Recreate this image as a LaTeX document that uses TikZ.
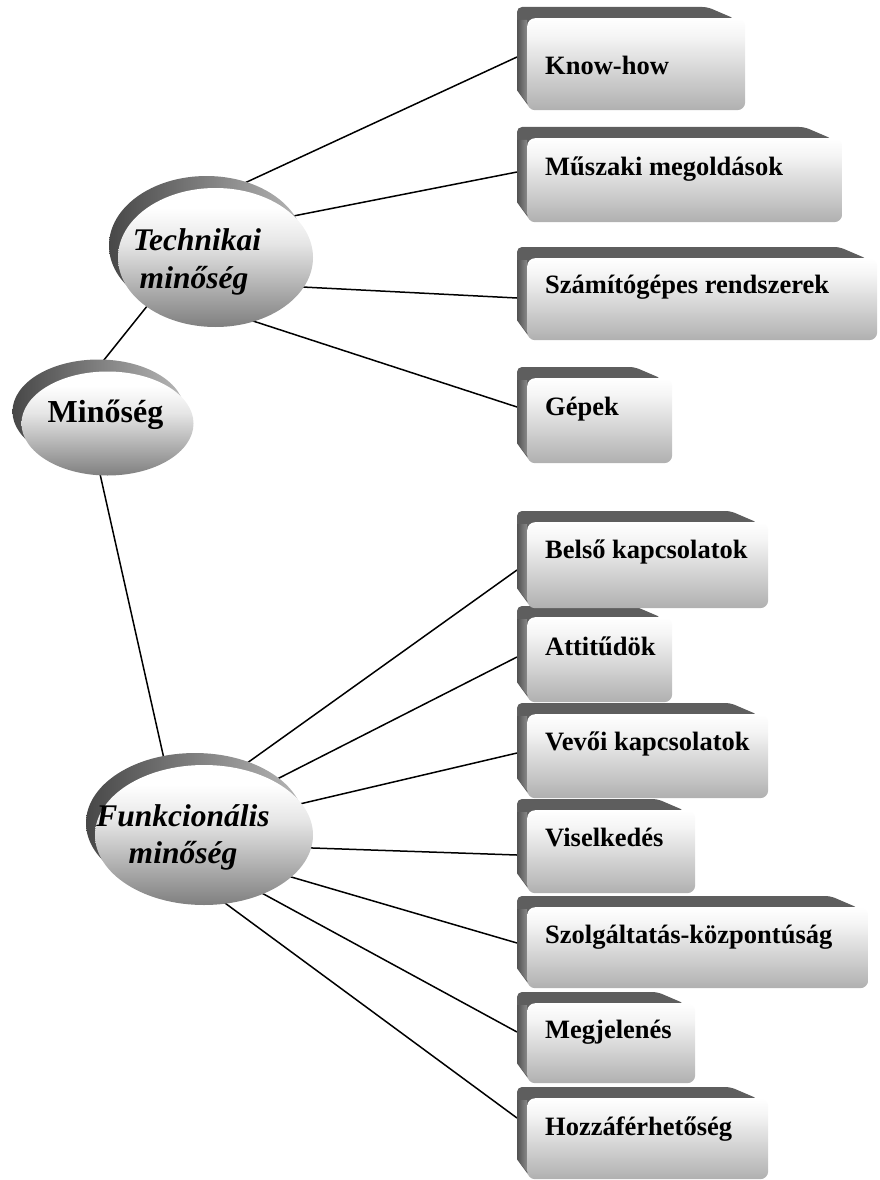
\documentclass[tikz,border=0pt]{standalone}
\usepackage{fontspec}
\setmainfont{Liberation Serif}
\usetikzlibrary{shapes.geometric,calc}
\pgfdeclarelayer{background}
\pgfdeclarelayer{bev}
\pgfsetlayers{background,bev,main}
\pgfdeclareverticalshading{boxface}{100bp}{color(0bp)=(black!31); color(25bp)=(black!31); color(65bp)=(black!4); color(75bp)=(white); color(100bp)=(white)}
\pgfdeclareverticalshading{ellface}{100bp}{color(0bp)=(black!50); color(25bp)=(black!50); color(55bp)=(black!10); color(68bp)=(white); color(100bp)=(white)}
\tikzset{
  face/.style={rectangle, rounded corners=8pt, shading=boxface, inner sep=0pt, anchor=north west},
  ellf/.style={ellipse, inner sep=0pt, shading=ellface},
  ellb/.style={ellipse, inner sep=0pt, left color=black!72, right color=black!28},
  bevel/.style={fill=black!63, rounded corners=5pt},
  bevside/.style={left color=black!68, right color=black!46},
  conn/.style={draw=black, line width=1.5pt},
  lbl/.style={font=\fontsize{26.5}{30}\selectfont\bfseries, anchor=base west, inner sep=0pt},
  ttl/.style={font=\fontsize{32}{38}\selectfont\bfseries, anchor=base, inner sep=0pt},
  ital/.style={font=\fontsize{31.5}{38}\selectfont\bfseries\itshape, anchor=base, inner sep=0pt}
}
\newcommand\bevelfor[1]{%
  \fill[bevel] ($(#1.south west)+(-10,-20)$) -- ($(#1.north west)+(-10,-11)$) -- ($(#1.north east)+(-38,-11)$) -- ($(#1.north east)+(-10,1)$) -- (#1.center) -- ($(#1.south west)+(4,-1)$) -- cycle;
  \shade[bevside] ($(#1.north west)+(-10,2)$) -- ($(#1.north west)+(0,2)$) -- ($(#1.south west)+(0,-8)$) -- ($(#1.south west)+(-10,-20)$) -- cycle;}
\begin{document}
\begin{tikzpicture}[x=1pt,y=-1pt]
\useasboundingbox (0,0) rectangle (879,1180);
% ellipses (front faces)
\node[ellf, minimum width=172pt, minimum height=104pt] (min) at (107.5,423.5) {};
\node[ellf, minimum width=195pt, minimum height=139pt] (tech) at (215.5,257.5) {};
\node[ellf, minimum width=218pt, minimum height=140pt] (funk) at (204,835) {};
% boxes (front faces)
\node[face, minimum width=218pt, minimum height=92pt] (b1) at (527,18) {};
\node[face, minimum width=315pt, minimum height=84pt] (b2) at (527,138) {};
\node[face, minimum width=350pt, minimum height=82pt] (b3) at (527,258) {};
\node[face, minimum width=145pt, minimum height=85pt] (b4) at (527,378) {};
\node[face, minimum width=241pt, minimum height=86pt] (b5) at (527,522) {};
\node[face, minimum width=145pt, minimum height=85pt] (b6) at (527,617) {};
\node[face, minimum width=241pt, minimum height=84pt] (b7) at (527,714) {};
\node[face, minimum width=168pt, minimum height=83pt] (b8) at (527,810) {};
\node[face, minimum width=341pt, minimum height=81pt] (b9) at (527,907) {};
\node[face, minimum width=168pt, minimum height=80pt] (b10) at (527,1003) {};
\node[face, minimum width=241pt, minimum height=81pt] (b11) at (527,1098) {};
% texts
\node[ttl] (tmin) at (105.5,422) {Minőség};
\node[ital] (ttech1) at (197,250) {Technikai};
\node[ital] (ttech2) at (194,288) {minőség};
\node[ital] (tfunk1) at (183,826) {Funkcionális};
\node[ital] (tfunk2) at (183,863) {minőség};
\node[lbl] (t1) at (545,75) {Know-how};
\node[lbl] (t2) at (545,175) {Műszaki megoldások};
\node[lbl] (t3) at (545,293) {Számítógépes rendszerek};
\node[lbl] (t4) at (545,415) {Gépek};
\node[lbl] (t5) at (545,558) {Belső kapcsolatok};
\node[lbl] (t6) at (545,655) {Attitűdök};
\node[lbl] (t7) at (545,750) {Vevői kapcsolatok};
\node[lbl] (t8) at (545,846) {Viselkedés};
\node[lbl] (t9) at (545,943) {Szolgáltatás-központúság};
\node[lbl] (t10) at (545,1038) {Megjelenés};
\node[lbl] (t11) at (545,1135) {Hozzáférhetőség};
% bevels and back ellipses
\begin{pgfonlayer}{bev}
\node[ellb, minimum width=172pt, minimum height=104pt] (minb) at ($(min)+(-9,-12)$) {};
\node[ellb, minimum width=195pt, minimum height=139pt] (techb) at ($(tech)+(-9,-12)$) {};
\node[ellb, minimum width=218pt, minimum height=140pt] (funkb) at ($(funk)+(-9,-12)$) {};
\bevelfor{b1}\bevelfor{b2}\bevelfor{b3}\bevelfor{b4}\bevelfor{b5}\bevelfor{b6}
\bevelfor{b7}\bevelfor{b8}\bevelfor{b9}\bevelfor{b10}\bevelfor{b11}
\end{pgfonlayer}
% connectors
\begin{pgfonlayer}{background}
\draw[conn] ($(min)+(-36,-23)$) -- ($(tech)+(-47.5,22.5)$);
\draw[conn] ($(min)+(-15,17)$) -- ($(funk)+(-33,-45)$);
\draw[conn] ($(tech)+(0,-61)$) -- ($(b1.north west)+(-10,39)$);
\draw[conn] ($(tech)+(24.5,-31)$) -- ($(b2.north west)+(-10,34)$);
\draw[conn] ($(tech)+(24.5,26.3)$) -- ($(b3.north west)+(-10,40)$);
\draw[conn] ($(tech)+(14.5,56)$) -- ($(b4.north west)+(-10,29)$);
\draw[conn] ($(funk)+(11,-49)$) -- ($(b5.north west)+(-10,48)$);
\draw[conn] ($(funk)+(26,-32)$) -- ($(b6.north west)+(-10,40)$);
\draw[conn] ($(funk)+(36,-17)$) -- ($(b7.north west)+(-10,39)$);
\draw[conn] ($(funk)+(36,10.5)$) -- ($(b8.north west)+(-10,45)$);
\draw[conn] ($(funk)+(36,27)$) -- ($(b9.north west)+(-10,36)$);
\draw[conn] ($(funk)+(21,38)$) -- ($(b10.north west)+(-10,29)$);
\draw[conn] ($(funk)+(6,57)$) -- ($(b11.north west)+(-10,20)$);
\end{pgfonlayer}
\end{tikzpicture}
\end{document}
